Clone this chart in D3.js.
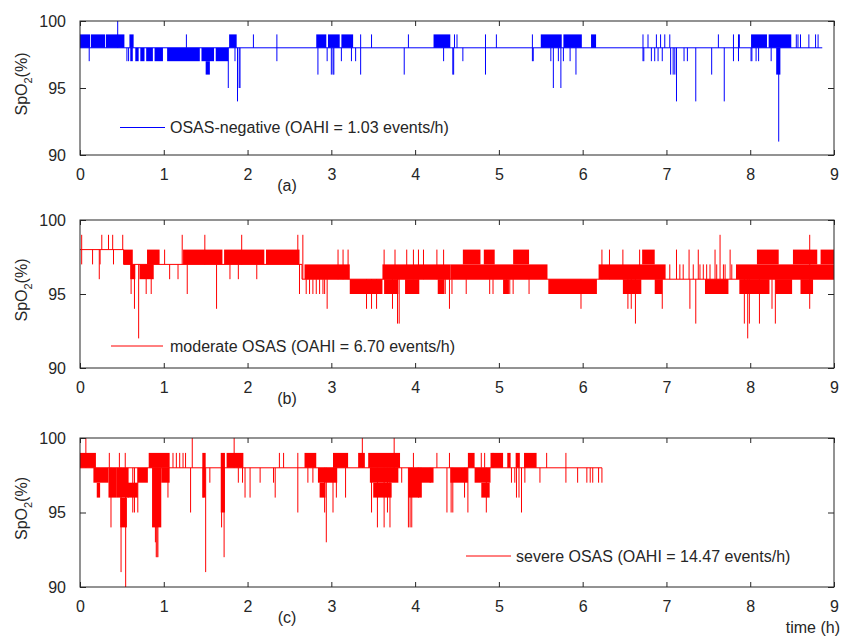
<!DOCTYPE html>
<html>
<head>
<meta charset="utf-8">
<script src="https://cdn.jsdelivr.net/npm/d3@7/dist/d3.min.js"></script>
<style>
  body { margin: 0; background: #fff; }
  text { font-family: "Liberation Sans", Arial, sans-serif; fill: #262626; }
</style>
</head>
<body>
<svg id="chart" width="843" height="637"></svg>
<script>
var timeTicks = [0, 1, 2, 3, 4, 5, 6, 7, 8, 9];
var spo2Ticks = [90, 95, 100];

// (a) OSAS-negative : main level steps [t, spo2], dense bands [t0, t1, lo, hi], single excursions [t, spo2]
var negBase = [[0, 98], [8.86, 98]];
var negBands = [
  [0, 0.12, 98, 99], [0.13, 0.3, 98, 99], [0.31, 0.53, 98, 99], [0.59, 0.64, 98, 99],
  [0.6, 0.63, 97, 98], [0.66, 0.7, 97, 98], [0.72, 0.77, 97, 98], [0.79, 0.87, 97, 98],
  [0.89, 0.99, 97, 98], [1.04, 1.43, 97, 98], [1.45, 1.6, 97, 98], [1.62, 1.77, 97, 98],
  [1.5, 1.55, 96, 97], [1.78, 1.87, 98, 99], [2.82, 2.94, 98, 99], [2.96, 3.1, 98, 99],
  [3.12, 3.26, 98, 99], [4.22, 4.42, 98, 99], [5.5, 5.75, 98, 99], [5.77, 5.99, 98, 99],
  [6.1, 6.16, 98, 99], [8.01, 8.2, 98, 99], [8.22, 8.49, 98, 99], [8.31, 8.36, 96, 98]
];
var negSpikes = [
  [0.11, 97], [0.45, 100], [0.56, 97], [0.58, 97], [1.27, 99], [1.77, 95], [1.85, 97], [1.88, 94],
  [1.9, 95], [1.91, 95], [2.07, 99], [2.35, 99], [2.35, 97], [2.84, 96], [2.95, 97], [3.0, 96],
  [3.02, 96], [3.03, 96], [3.12, 97], [3.24, 97], [3.29, 97], [3.35, 96], [3.35, 99], [3.48, 99],
  [3.87, 96], [3.92, 99], [4.34, 97], [4.45, 96], [4.46, 96], [4.47, 99], [4.5, 99], [4.57, 97],
  [4.84, 99], [4.84, 96], [4.97, 99], [5.4, 99], [5.4, 97], [5.41, 97], [5.62, 97], [5.65, 95],
  [5.71, 97], [5.74, 95], [5.77, 97], [5.85, 97], [5.92, 96], [6.72, 99], [6.72, 97], [6.73, 97],
  [6.78, 99], [6.82, 97], [6.86, 97], [6.88, 99], [6.9, 97], [6.93, 99], [6.95, 97], [6.98, 99],
  [7.04, 99], [7.05, 96], [7.08, 96], [7.1, 96], [7.12, 94], [7.21, 97], [7.25, 97], [7.35, 94],
  [7.54, 96], [7.62, 99], [7.69, 94], [7.8, 99], [7.8, 97], [7.86, 99], [7.86, 97], [7.87, 99],
  [8.01, 97], [8.02, 97], [8.07, 97], [8.1, 97], [8.25, 97], [8.34, 91], [8.55, 99], [8.57, 99],
  [8.6, 99], [8.7, 99], [8.78, 99], [8.81, 99]
];

// (b) moderate OSAS
var modBase = [[0, 98], [0.52, 97], [2.65, 96], [9, 96]];
var modBands = [
  [0.52, 0.63, 97, 98], [0.6, 0.66, 96, 97], [0.71, 0.88, 96, 97], [0.8, 0.95, 97, 98],
  [1.23, 1.7, 97, 98], [1.72, 2.2, 97, 98], [2.22, 2.62, 97, 98], [2.68, 3.22, 96, 97],
  [3.22, 3.61, 95, 96], [3.61, 4.42, 96, 97],
  [3.63, 3.8, 95, 96], [3.88, 4.05, 95, 96], [4.27, 4.35, 95, 96], [4.42, 5.58, 96, 97],
  [4.57, 4.78, 97, 98], [4.82, 4.95, 97, 98], [5.17, 5.36, 97, 98], [5.05, 5.12, 95, 96],
  [5.59, 6.17, 95, 96], [6.19, 6.99, 96, 97], [6.48, 6.7, 95, 96], [6.86, 6.95, 95, 96],
  [6.71, 6.86, 97, 98], [7.46, 7.74, 95, 96], [7.83, 9, 96, 97], [7.87, 8.23, 95, 96],
  [8.3, 8.5, 95, 96], [8.6, 8.75, 95, 96], [8.08, 8.34, 97, 98], [8.51, 8.8, 97, 98],
  [8.84, 9, 97, 98]
];
var modSpikes = [
  [0.02, 99], [0.02, 97], [0.15, 97], [0.23, 96], [0.24, 97], [0.26, 99], [0.34, 99], [0.39, 99],
  [0.4, 97], [0.51, 99], [0.61, 95], [0.65, 94], [0.7, 92], [0.79, 95], [0.85, 95], [1.01, 98],
  [1.07, 96], [1.17, 96], [1.22, 99], [1.28, 95], [1.49, 99], [1.63, 94], [1.79, 96], [1.89, 96],
  [1.93, 99], [2.11, 96], [2.6, 99], [2.62, 95], [2.66, 99], [2.7, 95], [2.74, 95], [2.78, 95],
  [2.82, 95], [2.86, 95], [2.9, 95], [2.92, 95], [2.95, 94], [3.08, 98], [3.14, 98], [3.2, 98],
  [3.42, 94], [3.48, 94], [3.54, 94], [3.63, 98], [3.73, 94], [3.76, 98], [3.79, 93], [3.81, 93],
  [3.9, 98], [3.98, 98], [4.04, 98], [4.1, 98], [4.26, 98], [4.34, 98], [4.36, 95], [4.41, 94],
  [4.44, 95], [4.61, 95], [4.89, 95], [4.93, 95], [5.09, 95], [5.13, 95], [5.17, 95], [5.36, 95],
  [5.98, 94], [6.23, 98], [6.32, 98], [6.48, 98], [6.54, 94], [6.58, 94], [6.63, 93], [6.68, 98],
  [6.95, 94], [7.04, 97], [7.12, 98], [7.16, 97], [7.2, 97], [7.27, 98], [7.28, 94], [7.32, 97],
  [7.35, 93], [7.38, 98], [7.4, 97], [7.44, 97], [7.48, 97], [7.52, 97], [7.58, 98], [7.6, 97],
  [7.64, 99], [7.68, 97], [7.7, 97], [7.76, 98], [7.78, 97], [7.93, 93], [7.97, 92], [7.99, 93],
  [8.11, 93], [8.26, 94], [8.3, 93], [8.71, 94], [8.71, 99]
];

// (c) severe OSAS
var sevBase = [[0, 98], [6.23, 98]];
var sevBands = [
  [0, 0.19, 98, 99], [0.16, 0.34, 97, 98], [0.2, 0.24, 96, 97], [0.34, 0.44, 96, 98],
  [0.44, 0.58, 96, 98], [0.48, 0.56, 94, 96], [0.57, 0.69, 96, 97], [0.69, 0.81, 97, 98],
  [0.82, 1.07, 98, 99], [0.86, 0.97, 94, 98], [0.97, 1.07, 97, 98], [1.46, 1.5, 96, 99],
  [1.68, 1.73, 95, 99], [1.75, 1.95, 98, 99], [2.68, 2.82, 98, 99], [2.84, 3.07, 97, 98],
  [2.86, 2.93, 96, 97], [3.02, 3.2, 98, 99], [3.32, 3.4, 98, 99], [3.44, 3.82, 98, 99],
  [3.46, 3.8, 97, 98], [3.5, 3.72, 96, 97], [3.92, 4.08, 96, 98], [4.02, 4.22, 97, 98],
  [4.42, 4.63, 97, 98], [4.63, 4.71, 98, 99], [4.71, 4.9, 97, 98], [4.79, 4.89, 96, 97],
  [4.9, 5.05, 98, 99], [5.1, 5.14, 98, 99], [5.2, 5.25, 98, 99], [5.3, 5.45, 98, 99]
];
var sevSpikes = [
  [0.07, 100], [0.35, 99], [0.37, 94], [0.47, 99], [0.49, 91], [0.54, 99], [0.545, 90], [0.63, 95],
  [0.65, 95], [0.69, 95], [0.9, 93], [0.91, 92], [0.92, 92], [0.93, 92], [1.05, 96], [1.11, 99],
  [1.15, 99], [1.19, 99], [1.23, 99], [1.26, 99], [1.32, 95], [1.34, 100], [1.47, 96], [1.5, 91],
  [1.55, 97], [1.69, 94], [1.72, 92], [1.84, 100], [1.89, 97], [1.94, 97], [1.97, 96], [2.03, 96],
  [2.15, 97], [2.31, 97], [2.33, 96], [2.38, 99], [2.43, 99], [2.6, 99], [2.6, 95], [2.72, 97],
  [2.78, 97], [2.92, 95], [2.94, 93], [3.02, 95], [3.06, 96], [3.17, 96], [3.37, 100], [3.48, 95],
  [3.55, 94], [3.63, 94], [3.67, 95], [3.7, 94], [3.75, 100], [3.84, 97], [3.92, 94], [3.94, 94],
  [3.96, 94], [3.98, 99], [4.04, 96], [4.18, 97], [4.26, 99], [4.38, 95], [4.41, 99], [4.43, 95],
  [4.45, 95], [4.59, 96], [4.63, 95], [4.79, 99], [4.83, 99], [4.85, 95], [4.93, 99], [5.15, 97],
  [5.19, 97], [5.21, 96], [5.24, 96], [5.27, 95], [5.31, 97], [5.49, 97], [5.57, 99], [5.8, 99],
  [5.8, 97], [5.94, 97], [6.05, 97], [6.09, 97], [6.12, 97], [6.19, 97], [6.23, 97]
];

var svg = d3.select("#chart");
var left = 80, right = 834;

var x = d3.scaleLinear().domain([0, 9]).range([left, right]);

var panels = [
  { top: 21, bottom: 155, color: "#0000ff", base: negBase, bands: negBands, spikes: negSpikes,
    legend: "OSAS-negative (OAHI = 1.03 events/h)", lx: [120, 165], ly: 127.5, tx: 170, tag: "(a)" },
  { top: 220, bottom: 368, color: "#ff0000", base: modBase, bands: modBands, spikes: modSpikes,
    legend: "moderate OSAS (OAHI = 6.70 events/h)", lx: [111, 163], ly: 346, tx: 170, tag: "(b)" },
  { top: 438, bottom: 587, color: "#ff0000", base: sevBase, bands: sevBands, spikes: sevSpikes,
    legend: "severe OSAS (OAHI = 14.47 events/h)", lx: [466, 511], ly: 556, tx: 516, tag: "(c)" }
];

panels.forEach(function (p) {
  var y = d3.scaleLinear().domain([90, 100]).range([p.bottom, p.top]);
  var g = svg.append("g");

  var bisect = d3.bisector(function (d) { return d[0]; }).right;
  function baseAt(t) {
    var i = Math.max(0, bisect(p.base, t) - 1);
    return p.base[i][1];
  }

  // signal: dense oscillation bands, main level, single excursions
  var plot = g.append("g");
  plot.selectAll("rect.band")
    .data(p.bands)
    .enter().append("rect")
    .attr("class", "band")
    .attr("x", function (d) { return x(d[0]); })
    .attr("width", function (d) { return x(d[1]) - x(d[0]); })
    .attr("y", function (d) { return y(d[3]); })
    .attr("height", function (d) { return y(d[2]) - y(d[3]); })
    .attr("fill", p.color);

  plot.append("path")
    .datum(p.base)
    .attr("d", d3.line()
      .x(function (d) { return x(d[0]); })
      .y(function (d) { return y(d[1]); })
      .curve(d3.curveStepAfter))
    .attr("fill", "none")
    .attr("stroke", p.color)
    .attr("stroke-width", 1);

  plot.selectAll("line.spike")
    .data(p.spikes)
    .enter().append("line")
    .attr("class", "spike")
    .attr("x1", function (d) { return x(d[0]); })
    .attr("x2", function (d) { return x(d[0]); })
    .attr("y1", function (d) { return y(baseAt(d[0])); })
    .attr("y2", function (d) { return y(d[1]); })
    .attr("stroke", p.color)
    .attr("stroke-width", 1);

  // axes (ticks pointing inward, MATLAB style)
  var axB = g.append("g")
    .attr("transform", "translate(0," + p.bottom + ")")
    .call(d3.axisBottom(x).tickValues(timeTicks).tickFormat(d3.format("d")).tickSizeInner(-5).tickSizeOuter(0).tickPadding(14));
  var axT = g.append("g")
    .attr("transform", "translate(0," + p.top + ")")
    .call(d3.axisTop(x).tickValues(timeTicks).tickFormat("").tickSizeInner(-5).tickSizeOuter(0));
  var axL = g.append("g")
    .attr("transform", "translate(" + left + ",0)")
    .call(d3.axisLeft(y).tickValues(spo2Ticks).tickSizeInner(-6).tickSizeOuter(0).tickPadding(14));
  var axR = g.append("g")
    .attr("transform", "translate(" + right + ",0)")
    .call(d3.axisRight(y).tickValues(spo2Ticks).tickFormat("").tickSizeInner(-6).tickSizeOuter(0));

  [axB, axT, axL, axR].forEach(function (a) {
    a.select(".domain").remove();
    a.selectAll("line").attr("stroke", "#262626");
    a.selectAll("text").attr("font-size", "16px").attr("fill", "#262626")
      .attr("font-family", "Liberation Sans, Arial, sans-serif");
  });

  g.append("rect")
    .attr("x", left).attr("y", p.top)
    .attr("width", right - left).attr("height", p.bottom - p.top)
    .attr("fill", "none").attr("stroke", "#262626").attr("stroke-width", 1);

  // legend
  g.append("line")
    .attr("x1", p.lx[0]).attr("x2", p.lx[1])
    .attr("y1", p.ly).attr("y2", p.ly)
    .attr("stroke", p.color).attr("stroke-width", 1);
  g.append("text")
    .attr("x", p.tx).attr("y", p.ly + 5.5)
    .attr("font-size", "16px")
    .text(p.legend);

  // y label
  var yl = g.append("text")
    .attr("transform", "translate(27," + ((p.top + p.bottom) / 2 - 4) + ") rotate(-90)")
    .attr("text-anchor", "middle")
    .attr("font-size", "16px");
  yl.append("tspan").text("SpO");
  yl.append("tspan").attr("font-size", "11px").attr("dy", 5).text("2");
  yl.append("tspan").attr("dy", -5).text("(%)");

  g.append("text")
    .attr("x", 287).attr("y", p.bottom + 36)
    .attr("text-anchor", "middle")
    .attr("font-size", "16px")
    .text(p.tag);
});

svg.append("text")
  .attr("x", 840).attr("y", 633)
  .attr("text-anchor", "end")
  .attr("font-size", "16px")
  .text("time (h)");
</script>
</body>
</html>
